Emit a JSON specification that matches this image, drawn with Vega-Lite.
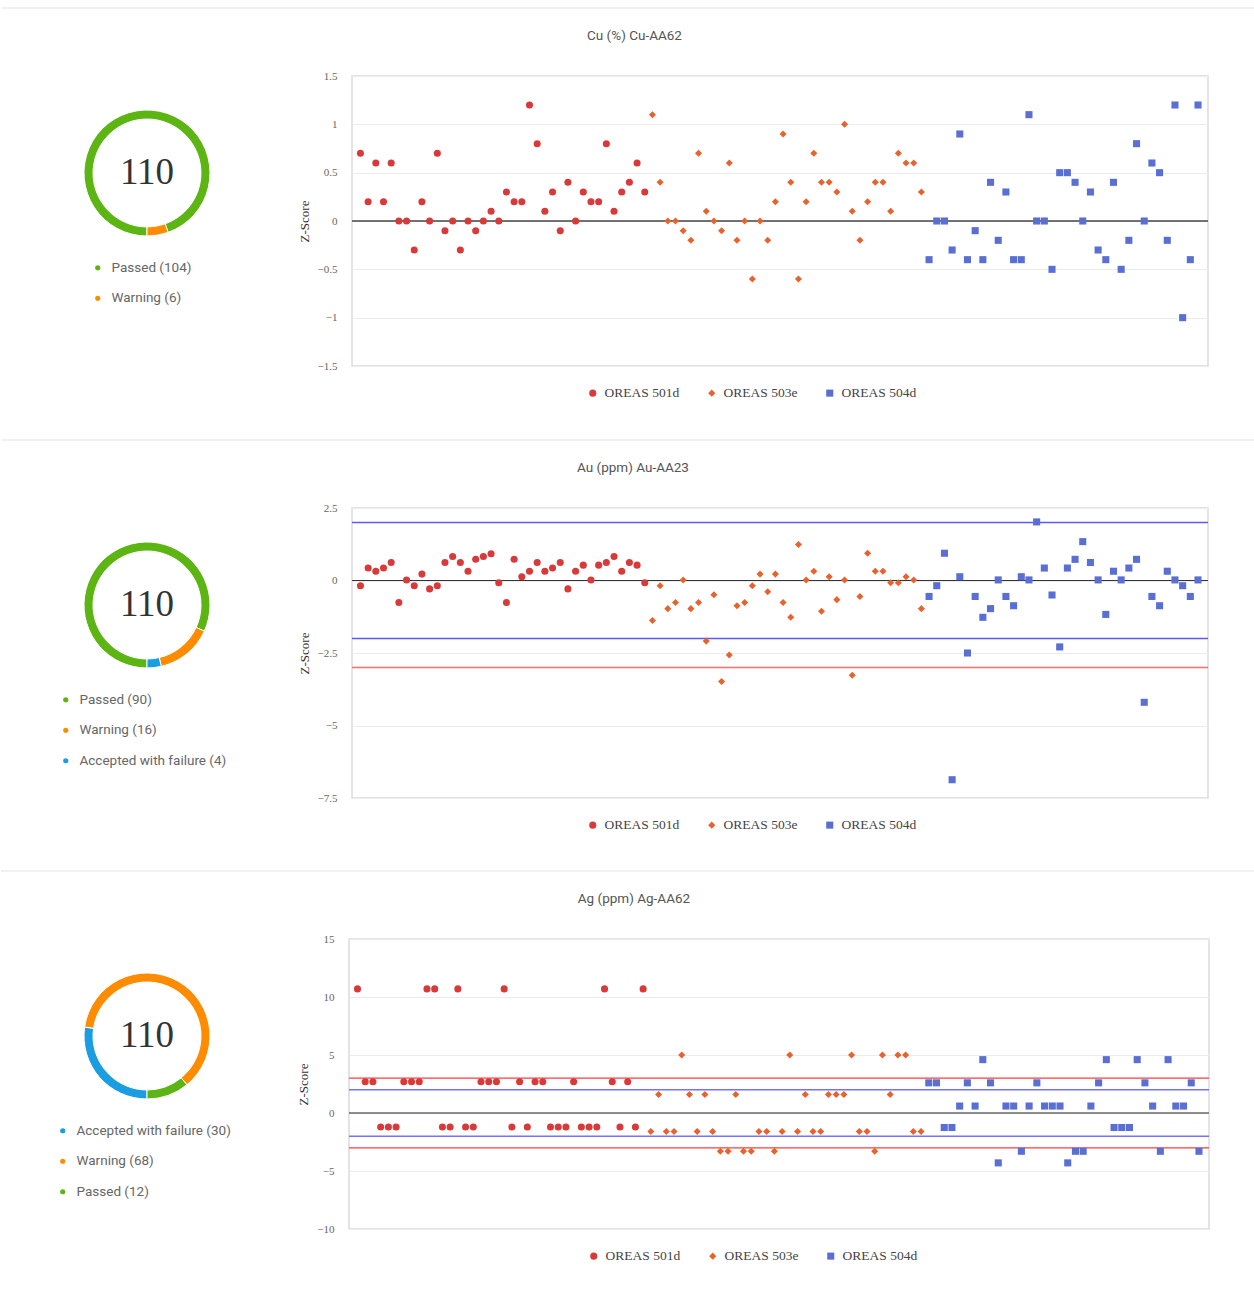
{
"$schema": "https://vega.github.io/schema/vega-lite/v6.json",
"padding": 0,
"background": "white",
"config": {"font": "Roboto", "view": {"stroke": null}},
"spacing": 18,
"resolve": {"scale": {"x": "independent", "y": "independent", "color": "independent", "shape": "independent", "theta": "independent"}},
"datasets": {
"cu": [
{"i":1,"s":"OREAS 501d","z":0.7},{"i":2,"s":"OREAS 501d","z":0.2},{"i":3,"s":"OREAS 501d","z":0.6},{"i":4,"s":"OREAS 501d","z":0.2},{"i":5,"s":"OREAS 501d","z":0.6},{"i":6,"s":"OREAS 501d","z":0},{"i":7,"s":"OREAS 501d","z":0},{"i":8,"s":"OREAS 501d","z":-0.3},{"i":9,"s":"OREAS 501d","z":0.2},{"i":10,"s":"OREAS 501d","z":0},
{"i":11,"s":"OREAS 501d","z":0.7},{"i":12,"s":"OREAS 501d","z":-0.1},{"i":13,"s":"OREAS 501d","z":0},{"i":14,"s":"OREAS 501d","z":-0.3},{"i":15,"s":"OREAS 501d","z":0},{"i":16,"s":"OREAS 501d","z":-0.1},{"i":17,"s":"OREAS 501d","z":0},{"i":18,"s":"OREAS 501d","z":0.1},{"i":19,"s":"OREAS 501d","z":0},{"i":20,"s":"OREAS 501d","z":0.3},
{"i":21,"s":"OREAS 501d","z":0.2},{"i":22,"s":"OREAS 501d","z":0.2},{"i":23,"s":"OREAS 501d","z":1.2},{"i":24,"s":"OREAS 501d","z":0.8},{"i":25,"s":"OREAS 501d","z":0.1},{"i":26,"s":"OREAS 501d","z":0.3},{"i":27,"s":"OREAS 501d","z":-0.1},{"i":28,"s":"OREAS 501d","z":0.4},{"i":29,"s":"OREAS 501d","z":0},{"i":30,"s":"OREAS 501d","z":0.3},
{"i":31,"s":"OREAS 501d","z":0.2},{"i":32,"s":"OREAS 501d","z":0.2},{"i":33,"s":"OREAS 501d","z":0.8},{"i":34,"s":"OREAS 501d","z":0.1},{"i":35,"s":"OREAS 501d","z":0.3},{"i":36,"s":"OREAS 501d","z":0.4},{"i":37,"s":"OREAS 501d","z":0.6},{"i":38,"s":"OREAS 501d","z":0.3},
{"i":39,"s":"OREAS 503e","z":1.1},{"i":40,"s":"OREAS 503e","z":0.4},{"i":41,"s":"OREAS 503e","z":0},{"i":42,"s":"OREAS 503e","z":0},{"i":43,"s":"OREAS 503e","z":-0.1},{"i":44,"s":"OREAS 503e","z":-0.2},{"i":45,"s":"OREAS 503e","z":0.7},{"i":46,"s":"OREAS 503e","z":0.1},{"i":47,"s":"OREAS 503e","z":0},{"i":48,"s":"OREAS 503e","z":-0.1},
{"i":49,"s":"OREAS 503e","z":0.6},{"i":50,"s":"OREAS 503e","z":-0.2},{"i":51,"s":"OREAS 503e","z":0},{"i":52,"s":"OREAS 503e","z":-0.6},{"i":53,"s":"OREAS 503e","z":0},{"i":54,"s":"OREAS 503e","z":-0.2},{"i":55,"s":"OREAS 503e","z":0.2},{"i":56,"s":"OREAS 503e","z":0.9},{"i":57,"s":"OREAS 503e","z":0.4},{"i":58,"s":"OREAS 503e","z":-0.6},
{"i":59,"s":"OREAS 503e","z":0.2},{"i":60,"s":"OREAS 503e","z":0.7},{"i":61,"s":"OREAS 503e","z":0.4},{"i":62,"s":"OREAS 503e","z":0.4},{"i":63,"s":"OREAS 503e","z":0.3},{"i":64,"s":"OREAS 503e","z":1.0},{"i":65,"s":"OREAS 503e","z":0.1},{"i":66,"s":"OREAS 503e","z":-0.2},{"i":67,"s":"OREAS 503e","z":0.2},{"i":68,"s":"OREAS 503e","z":0.4},
{"i":69,"s":"OREAS 503e","z":0.4},{"i":70,"s":"OREAS 503e","z":0.1},{"i":71,"s":"OREAS 503e","z":0.7},{"i":72,"s":"OREAS 503e","z":0.6},{"i":73,"s":"OREAS 503e","z":0.6},{"i":74,"s":"OREAS 503e","z":0.3},
{"i":75,"s":"OREAS 504d","z":-0.4},{"i":76,"s":"OREAS 504d","z":0},{"i":77,"s":"OREAS 504d","z":0},{"i":78,"s":"OREAS 504d","z":-0.3},{"i":79,"s":"OREAS 504d","z":0.9},{"i":80,"s":"OREAS 504d","z":-0.4},{"i":81,"s":"OREAS 504d","z":-0.1},{"i":82,"s":"OREAS 504d","z":-0.4},{"i":83,"s":"OREAS 504d","z":0.4},{"i":84,"s":"OREAS 504d","z":-0.2},
{"i":85,"s":"OREAS 504d","z":0.3},{"i":86,"s":"OREAS 504d","z":-0.4},{"i":87,"s":"OREAS 504d","z":-0.4},{"i":88,"s":"OREAS 504d","z":1.1},{"i":89,"s":"OREAS 504d","z":0},{"i":90,"s":"OREAS 504d","z":0},{"i":91,"s":"OREAS 504d","z":-0.5},{"i":92,"s":"OREAS 504d","z":0.5},{"i":93,"s":"OREAS 504d","z":0.5},{"i":94,"s":"OREAS 504d","z":0.4},
{"i":95,"s":"OREAS 504d","z":0},{"i":96,"s":"OREAS 504d","z":0.3},{"i":97,"s":"OREAS 504d","z":-0.3},{"i":98,"s":"OREAS 504d","z":-0.4},{"i":99,"s":"OREAS 504d","z":0.4},{"i":100,"s":"OREAS 504d","z":-0.5},{"i":101,"s":"OREAS 504d","z":-0.2},{"i":102,"s":"OREAS 504d","z":0.8},{"i":103,"s":"OREAS 504d","z":0},{"i":104,"s":"OREAS 504d","z":0.6},
{"i":105,"s":"OREAS 504d","z":0.5},{"i":106,"s":"OREAS 504d","z":-0.2},{"i":107,"s":"OREAS 504d","z":1.2},{"i":108,"s":"OREAS 504d","z":-1.0},{"i":109,"s":"OREAS 504d","z":-0.4},{"i":110,"s":"OREAS 504d","z":1.2}
],
"au": [
{"i":1,"s":"OREAS 501d","z":-0.18},{"i":2,"s":"OREAS 501d","z":0.43},{"i":3,"s":"OREAS 501d","z":0.32},{"i":4,"s":"OREAS 501d","z":0.43},{"i":5,"s":"OREAS 501d","z":0.62},{"i":6,"s":"OREAS 501d","z":-0.76},{"i":7,"s":"OREAS 501d","z":0.02},{"i":8,"s":"OREAS 501d","z":-0.18},{"i":9,"s":"OREAS 501d","z":0.22},{"i":10,"s":"OREAS 501d","z":-0.29},
{"i":11,"s":"OREAS 501d","z":-0.18},{"i":12,"s":"OREAS 501d","z":0.62},{"i":13,"s":"OREAS 501d","z":0.83},{"i":14,"s":"OREAS 501d","z":0.62},{"i":15,"s":"OREAS 501d","z":0.32},{"i":16,"s":"OREAS 501d","z":0.73},{"i":17,"s":"OREAS 501d","z":0.83},{"i":18,"s":"OREAS 501d","z":0.92},{"i":19,"s":"OREAS 501d","z":-0.08},{"i":20,"s":"OREAS 501d","z":-0.76},
{"i":21,"s":"OREAS 501d","z":0.73},{"i":22,"s":"OREAS 501d","z":0.13},{"i":23,"s":"OREAS 501d","z":0.32},{"i":24,"s":"OREAS 501d","z":0.62},{"i":25,"s":"OREAS 501d","z":0.32},{"i":26,"s":"OREAS 501d","z":0.43},{"i":27,"s":"OREAS 501d","z":0.62},{"i":28,"s":"OREAS 501d","z":-0.29},{"i":29,"s":"OREAS 501d","z":0.32},{"i":30,"s":"OREAS 501d","z":0.53},
{"i":31,"s":"OREAS 501d","z":0.02},{"i":32,"s":"OREAS 501d","z":0.53},{"i":33,"s":"OREAS 501d","z":0.62},{"i":34,"s":"OREAS 501d","z":0.83},{"i":35,"s":"OREAS 501d","z":0.32},{"i":36,"s":"OREAS 501d","z":0.62},{"i":37,"s":"OREAS 501d","z":0.53},{"i":38,"s":"OREAS 501d","z":-0.08},
{"i":39,"s":"OREAS 503e","z":-1.38},{"i":40,"s":"OREAS 503e","z":-0.18},{"i":41,"s":"OREAS 503e","z":-0.97},{"i":42,"s":"OREAS 503e","z":-0.76},{"i":43,"s":"OREAS 503e","z":0.02},{"i":44,"s":"OREAS 503e","z":-0.97},{"i":45,"s":"OREAS 503e","z":-0.76},{"i":46,"s":"OREAS 503e","z":-2.09},{"i":47,"s":"OREAS 503e","z":-0.49},{"i":48,"s":"OREAS 503e","z":-3.48},
{"i":49,"s":"OREAS 503e","z":-2.57},{"i":50,"s":"OREAS 503e","z":-0.87},{"i":51,"s":"OREAS 503e","z":-0.76},{"i":52,"s":"OREAS 503e","z":-0.18},{"i":53,"s":"OREAS 503e","z":0.22},{"i":54,"s":"OREAS 503e","z":-0.39},{"i":55,"s":"OREAS 503e","z":0.22},{"i":56,"s":"OREAS 503e","z":-0.76},{"i":57,"s":"OREAS 503e","z":-1.27},{"i":58,"s":"OREAS 503e","z":1.24},
{"i":59,"s":"OREAS 503e","z":0.02},{"i":60,"s":"OREAS 503e","z":0.32},{"i":61,"s":"OREAS 503e","z":-1.06},{"i":62,"s":"OREAS 503e","z":0.13},{"i":63,"s":"OREAS 503e","z":-0.66},{"i":64,"s":"OREAS 503e","z":0.02},{"i":65,"s":"OREAS 503e","z":-3.27},{"i":66,"s":"OREAS 503e","z":-0.55},{"i":67,"s":"OREAS 503e","z":0.94},{"i":68,"s":"OREAS 503e","z":0.32},
{"i":69,"s":"OREAS 503e","z":0.32},{"i":70,"s":"OREAS 503e","z":-0.08},{"i":71,"s":"OREAS 503e","z":-0.08},{"i":72,"s":"OREAS 503e","z":0.13},{"i":73,"s":"OREAS 503e","z":0.02},{"i":74,"s":"OREAS 503e","z":-0.97},
{"i":75,"s":"OREAS 504d","z":-0.55},{"i":76,"s":"OREAS 504d","z":-0.18},{"i":77,"s":"OREAS 504d","z":0.94},{"i":78,"s":"OREAS 504d","z":-6.87},{"i":79,"s":"OREAS 504d","z":0.13},{"i":80,"s":"OREAS 504d","z":-2.5},{"i":81,"s":"OREAS 504d","z":-0.55},{"i":82,"s":"OREAS 504d","z":-1.27},{"i":83,"s":"OREAS 504d","z":-0.97},{"i":84,"s":"OREAS 504d","z":0.02},
{"i":85,"s":"OREAS 504d","z":-0.55},{"i":86,"s":"OREAS 504d","z":-0.87},{"i":87,"s":"OREAS 504d","z":0.13},{"i":88,"s":"OREAS 504d","z":0.02},{"i":89,"s":"OREAS 504d","z":2.02},{"i":90,"s":"OREAS 504d","z":0.43},{"i":91,"s":"OREAS 504d","z":-0.5},{"i":92,"s":"OREAS 504d","z":-2.29},{"i":93,"s":"OREAS 504d","z":0.43},{"i":94,"s":"OREAS 504d","z":0.73},
{"i":95,"s":"OREAS 504d","z":1.34},{"i":96,"s":"OREAS 504d","z":0.62},{"i":97,"s":"OREAS 504d","z":0.02},{"i":98,"s":"OREAS 504d","z":-1.17},{"i":99,"s":"OREAS 504d","z":0.32},{"i":100,"s":"OREAS 504d","z":0.02},{"i":101,"s":"OREAS 504d","z":0.43},{"i":102,"s":"OREAS 504d","z":0.73},{"i":103,"s":"OREAS 504d","z":-4.2},{"i":104,"s":"OREAS 504d","z":-0.55},
{"i":105,"s":"OREAS 504d","z":-0.87},{"i":106,"s":"OREAS 504d","z":0.32},{"i":107,"s":"OREAS 504d","z":0.02},{"i":108,"s":"OREAS 504d","z":-0.18},{"i":109,"s":"OREAS 504d","z":-0.55},{"i":110,"s":"OREAS 504d","z":0.02}
],
"ag": [
{"i":1,"s":"OREAS 501d","z":10.7},{"i":2,"s":"OREAS 501d","z":2.7},{"i":3,"s":"OREAS 501d","z":2.7},{"i":4,"s":"OREAS 501d","z":-1.2},{"i":5,"s":"OREAS 501d","z":-1.2},{"i":6,"s":"OREAS 501d","z":-1.2},{"i":7,"s":"OREAS 501d","z":2.7},{"i":8,"s":"OREAS 501d","z":2.7},{"i":9,"s":"OREAS 501d","z":2.7},{"i":10,"s":"OREAS 501d","z":10.7},
{"i":11,"s":"OREAS 501d","z":10.7},{"i":12,"s":"OREAS 501d","z":-1.2},{"i":13,"s":"OREAS 501d","z":-1.2},{"i":14,"s":"OREAS 501d","z":10.7},{"i":15,"s":"OREAS 501d","z":-1.2},{"i":16,"s":"OREAS 501d","z":-1.2},{"i":17,"s":"OREAS 501d","z":2.7},{"i":18,"s":"OREAS 501d","z":2.7},{"i":19,"s":"OREAS 501d","z":2.7},{"i":20,"s":"OREAS 501d","z":10.7},
{"i":21,"s":"OREAS 501d","z":-1.2},{"i":22,"s":"OREAS 501d","z":2.7},{"i":23,"s":"OREAS 501d","z":-1.2},{"i":24,"s":"OREAS 501d","z":2.7},{"i":25,"s":"OREAS 501d","z":2.7},{"i":26,"s":"OREAS 501d","z":-1.2},{"i":27,"s":"OREAS 501d","z":-1.2},{"i":28,"s":"OREAS 501d","z":-1.2},{"i":29,"s":"OREAS 501d","z":2.7},{"i":30,"s":"OREAS 501d","z":-1.2},
{"i":31,"s":"OREAS 501d","z":-1.2},{"i":32,"s":"OREAS 501d","z":-1.2},{"i":33,"s":"OREAS 501d","z":10.7},{"i":34,"s":"OREAS 501d","z":2.7},{"i":35,"s":"OREAS 501d","z":-1.2},{"i":36,"s":"OREAS 501d","z":2.7},{"i":37,"s":"OREAS 501d","z":-1.2},{"i":38,"s":"OREAS 501d","z":10.7},
{"i":39,"s":"OREAS 503e","z":-1.6},{"i":40,"s":"OREAS 503e","z":1.6},{"i":41,"s":"OREAS 503e","z":-1.6},{"i":42,"s":"OREAS 503e","z":-1.6},{"i":43,"s":"OREAS 503e","z":5},{"i":44,"s":"OREAS 503e","z":1.6},{"i":45,"s":"OREAS 503e","z":-1.6},{"i":46,"s":"OREAS 503e","z":1.6},{"i":47,"s":"OREAS 503e","z":-1.6},{"i":48,"s":"OREAS 503e","z":-3.3},
{"i":49,"s":"OREAS 503e","z":-3.3},{"i":50,"s":"OREAS 503e","z":1.6},{"i":51,"s":"OREAS 503e","z":-3.3},{"i":52,"s":"OREAS 503e","z":-3.3},{"i":53,"s":"OREAS 503e","z":-1.6},{"i":54,"s":"OREAS 503e","z":-1.6},{"i":55,"s":"OREAS 503e","z":-3.3},{"i":56,"s":"OREAS 503e","z":-1.6},{"i":57,"s":"OREAS 503e","z":5},{"i":58,"s":"OREAS 503e","z":-1.6},
{"i":59,"s":"OREAS 503e","z":1.6},{"i":60,"s":"OREAS 503e","z":-1.6},{"i":61,"s":"OREAS 503e","z":-1.6},{"i":62,"s":"OREAS 503e","z":1.6},{"i":63,"s":"OREAS 503e","z":1.6},{"i":64,"s":"OREAS 503e","z":1.6},{"i":65,"s":"OREAS 503e","z":5},{"i":66,"s":"OREAS 503e","z":-1.6},{"i":67,"s":"OREAS 503e","z":-1.6},{"i":68,"s":"OREAS 503e","z":-3.3},
{"i":69,"s":"OREAS 503e","z":5},{"i":70,"s":"OREAS 503e","z":1.6},{"i":71,"s":"OREAS 503e","z":5},{"i":72,"s":"OREAS 503e","z":5},{"i":73,"s":"OREAS 503e","z":-1.6},{"i":74,"s":"OREAS 503e","z":-1.6},
{"i":75,"s":"OREAS 504d","z":2.6},{"i":76,"s":"OREAS 504d","z":2.6},{"i":77,"s":"OREAS 504d","z":-1.25},{"i":78,"s":"OREAS 504d","z":-1.25},{"i":79,"s":"OREAS 504d","z":0.6},{"i":80,"s":"OREAS 504d","z":2.6},{"i":81,"s":"OREAS 504d","z":0.6},{"i":82,"s":"OREAS 504d","z":4.6},{"i":83,"s":"OREAS 504d","z":2.6},{"i":84,"s":"OREAS 504d","z":-4.3},
{"i":85,"s":"OREAS 504d","z":0.6},{"i":86,"s":"OREAS 504d","z":0.6},{"i":87,"s":"OREAS 504d","z":-3.3},{"i":88,"s":"OREAS 504d","z":0.6},{"i":89,"s":"OREAS 504d","z":2.6},{"i":90,"s":"OREAS 504d","z":0.6},{"i":91,"s":"OREAS 504d","z":0.6},{"i":92,"s":"OREAS 504d","z":0.6},{"i":93,"s":"OREAS 504d","z":-4.3},{"i":94,"s":"OREAS 504d","z":-3.3},
{"i":95,"s":"OREAS 504d","z":-3.3},{"i":96,"s":"OREAS 504d","z":0.6},{"i":97,"s":"OREAS 504d","z":2.6},{"i":98,"s":"OREAS 504d","z":4.6},{"i":99,"s":"OREAS 504d","z":-1.25},{"i":100,"s":"OREAS 504d","z":-1.25},{"i":101,"s":"OREAS 504d","z":-1.25},{"i":102,"s":"OREAS 504d","z":4.6},{"i":103,"s":"OREAS 504d","z":2.6},{"i":104,"s":"OREAS 504d","z":0.6},
{"i":105,"s":"OREAS 504d","z":-3.3},{"i":106,"s":"OREAS 504d","z":4.6},{"i":107,"s":"OREAS 504d","z":0.6},{"i":108,"s":"OREAS 504d","z":0.6},{"i":109,"s":"OREAS 504d","z":2.6},{"i":110,"s":"OREAS 504d","z":-3.3}
]
},
"vconcat": [
{"width": 1254, "height": 8, "view": {"stroke": null}, "data": {"values": [{"v": 0}]}, "mark": {"type": "rule", "color": "#e3e3e3"}, "encoding": {"y": {"field": "v", "type": "quantitative", "scale": {"domain": [0, 1]}, "axis": null}}},
{
"spacing": 4,
"resolve": {"scale": {"x": "independent", "y": "independent", "color": "independent", "shape": "independent", "theta": "independent"}},
"hconcat": [
{"width": 292, "height": 194, "view": {"stroke": null},
"layer": [
{"data": {"values": [{"label": "Passed (104)", "n": 104, "o": 1}, {"label": "Warning (6)", "n": 6, "o": 2}]},
"mark": {"type": "arc", "outerRadius": 63, "innerRadius": 54, "stroke": "white", "strokeWidth": 1},
"encoding": {
"theta": {"field": "n", "type": "quantitative", "stack": true, "scale": {"range": [3.14159, 9.42478]}},
"order": {"field": "o", "type": "quantitative"},
"color": {"field": "label", "type": "nominal", "scale": {"domain": ["Passed (104)", "Warning (6)"], "range": ["#5db514", "#ff8c00"]},
"legend": {"orient": "none", "legendX": 90, "legendY": 185, "title": null, "direction": "vertical", "symbolType": "circle", "symbolSize": 45, "labelFont": "Roboto", "labelFontSize": 13.5, "labelColor": "#666", "labelOffset": 7, "rowPadding": 15.5, "padding": 0}}}},
{"data": {"values": [{"t": "110"}]}, "mark": {"type": "text", "font": "Liberation Serif", "fontSize": 37, "color": "#333", "align": "center", "baseline": "middle"}, "encoding": {"text": {"field": "t", "type": "nominal"}}}
]},
{"width": 856, "height": 290, "view": {"stroke": "#dcdcdc", "strokeWidth": 1.5},
"title": {"text": "Cu (%) Cu-AA62", "anchor": "start", "dx": 289, "offset": 28, "font": "Roboto", "fontSize": 13.5, "fontWeight": "normal", "color": "#555"},
"encoding": {"y": {"field": "z", "type": "quantitative", "scale": {"domain": [-1.5, 1.5], "nice": false, "zero": false},
"axis": {"values": [-1.5, -1, -0.5, 0, 0.5, 1, 1.5], "labelExpr": "format(datum.value, '~g')", "title": "Z-Score", "titleFont": "Liberation Serif", "titleFontSize": 13, "titleFontWeight": "normal", "titleColor": "#333", "titlePadding": 6, "labelFont": "Liberation Serif", "labelFontSize": 11, "labelColor": "#666", "labelPadding": 15, "ticks": false, "domain": false, "grid": true, "gridColor": "#ececec"}}},
"layer": [
{"data": {"values": [{"z": 0}]}, "mark": {"type": "rule", "color": "#444", "strokeWidth": 1.3}, "encoding": {}},
{"data": {"name": "cu"}, "mark": {"type": "point", "filled": true, "size": 50, "opacity": 1},
"encoding": {
"x": {"field": "i", "type": "quantitative", "scale": {"domain": [-0.1, 111.3], "nice": false, "zero": false}, "axis": null},
"color": {"field": "s", "type": "nominal", "scale": {"domain": ["OREAS 501d", "OREAS 503e", "OREAS 504d"], "range": ["#d83a3a", "#e8632c", "#5a6fd4"]},
"legend": {"orient": "none", "legendX": 234, "legendY": 310, "direction": "horizontal", "title": null, "labelFont": "Liberation Serif", "labelFontSize": 13.5, "labelColor": "#444", "symbolSize": 50, "labelOffset": 5, "columnPadding": 25, "padding": 0}},
"shape": {"field": "s", "type": "nominal", "scale": {"domain": ["OREAS 501d", "OREAS 503e", "OREAS 504d"], "range": ["circle", "diamond", "square"]},
"legend": {"orient": "none", "legendX": 234, "legendY": 310, "direction": "horizontal", "title": null, "labelFont": "Liberation Serif", "labelFontSize": 13.5, "labelColor": "#444", "symbolSize": 50, "labelOffset": 5, "columnPadding": 25, "padding": 0}}}}
]}
]},
{"width": 1254, "height": 21, "view": {"stroke": null}, "data": {"values": [{"v": 0}]}, "mark": {"type": "rule", "color": "#e3e3e3"}, "encoding": {"y": {"field": "v", "type": "quantitative", "scale": {"domain": [0, 1]}, "axis": null}}},
{
"spacing": 4,
"resolve": {"scale": {"x": "independent", "y": "independent", "color": "independent", "shape": "independent", "theta": "independent"}},
"hconcat": [
{"width": 292, "height": 194, "view": {"stroke": null},
"layer": [
{"data": {"values": [{"label": "Passed (90)", "n": 90, "o": 1}, {"label": "Warning (16)", "n": 16, "o": 2}, {"label": "Accepted with failure (4)", "n": 4, "o": 3}]},
"mark": {"type": "arc", "outerRadius": 63, "innerRadius": 54, "stroke": "white", "strokeWidth": 1},
"encoding": {
"theta": {"field": "n", "type": "quantitative", "stack": true, "scale": {"range": [3.14159, 9.42478]}},
"order": {"field": "o", "type": "quantitative"},
"color": {"field": "label", "type": "nominal", "scale": {"domain": ["Passed (90)", "Warning (16)", "Accepted with failure (4)"], "range": ["#5db514", "#ff8c00", "#1b9de2"]},
"legend": {"orient": "none", "legendX": 58, "legendY": 185, "title": null, "direction": "vertical", "symbolType": "circle", "symbolSize": 45, "labelFont": "Roboto", "labelFontSize": 13.5, "labelColor": "#666", "labelOffset": 7, "rowPadding": 15.5, "padding": 0}}}},
{"data": {"values": [{"t": "110"}]}, "mark": {"type": "text", "font": "Liberation Serif", "fontSize": 37, "color": "#333", "align": "center", "baseline": "middle"}, "encoding": {"text": {"field": "t", "type": "nominal"}}}
]},
{"width": 856, "height": 290, "view": {"stroke": "#dcdcdc", "strokeWidth": 1.5},
"title": {"text": "Au (ppm) Au-AA23", "anchor": "start", "dx": 279, "offset": 28, "font": "Roboto", "fontSize": 13.5, "fontWeight": "normal", "color": "#555"},
"encoding": {"y": {"field": "z", "type": "quantitative", "scale": {"domain": [-7.5, 2.5], "nice": false, "zero": false},
"axis": {"values": [-7.5, -5, -2.5, 0, 2.5], "labelExpr": "format(datum.value, '~g')", "title": "Z-Score", "titleFont": "Liberation Serif", "titleFontSize": 13, "titleFontWeight": "normal", "titleColor": "#333", "titlePadding": 6, "labelFont": "Liberation Serif", "labelFontSize": 11, "labelColor": "#666", "labelPadding": 15, "ticks": false, "domain": false, "grid": true, "gridColor": "#ececec"}}},
"layer": [
{"data": {"values": [{"z": 0}]}, "mark": {"type": "rule", "color": "#333", "strokeWidth": 1.2}, "encoding": {}},
{"data": {"values": [{"z": 2}, {"z": -2}]}, "mark": {"type": "rule", "color": "#5a5aff", "strokeWidth": 1.5}, "encoding": {}},
{"data": {"values": [{"z": -3}]}, "mark": {"type": "rule", "color": "#ff6a6a", "strokeWidth": 1.5}, "encoding": {}},
{"data": {"name": "au"}, "mark": {"type": "point", "filled": true, "size": 50, "opacity": 1},
"encoding": {
"x": {"field": "i", "type": "quantitative", "scale": {"domain": [-0.1, 111.3], "nice": false, "zero": false}, "axis": null},
"color": {"field": "s", "type": "nominal", "scale": {"domain": ["OREAS 501d", "OREAS 503e", "OREAS 504d"], "range": ["#d83a3a", "#e8632c", "#5a6fd4"]},
"legend": {"orient": "none", "legendX": 234, "legendY": 310, "direction": "horizontal", "title": null, "labelFont": "Liberation Serif", "labelFontSize": 13.5, "labelColor": "#444", "symbolSize": 50, "labelOffset": 5, "columnPadding": 25, "padding": 0}},
"shape": {"field": "s", "type": "nominal", "scale": {"domain": ["OREAS 501d", "OREAS 503e", "OREAS 504d"], "range": ["circle", "diamond", "square"]},
"legend": {"orient": "none", "legendX": 234, "legendY": 310, "direction": "horizontal", "title": null, "labelFont": "Liberation Serif", "labelFontSize": 13.5, "labelColor": "#444", "symbolSize": 50, "labelOffset": 5, "columnPadding": 25, "padding": 0}}}}
]}
]},
{"width": 1254, "height": 20, "view": {"stroke": null}, "data": {"values": [{"v": 0}]}, "mark": {"type": "rule", "color": "#e3e3e3"}, "encoding": {"y": {"field": "v", "type": "quantitative", "scale": {"domain": [0, 1]}, "axis": null}}},
{
"spacing": 4,
"resolve": {"scale": {"x": "independent", "y": "independent", "color": "independent", "shape": "independent", "theta": "independent"}},
"hconcat": [
{"width": 292, "height": 194, "view": {"stroke": null},
"layer": [
{"data": {"values": [{"label": "Accepted with failure (30)", "n": 30, "o": 1}, {"label": "Warning (68)", "n": 68, "o": 2}, {"label": "Passed (12)", "n": 12, "o": 3}]},
"mark": {"type": "arc", "outerRadius": 63, "innerRadius": 54, "stroke": "white", "strokeWidth": 1},
"encoding": {
"theta": {"field": "n", "type": "quantitative", "stack": true, "scale": {"range": [3.14159, 9.42478]}},
"order": {"field": "o", "type": "quantitative"},
"color": {"field": "label", "type": "nominal", "scale": {"domain": ["Accepted with failure (30)", "Warning (68)", "Passed (12)"], "range": ["#1b9de2", "#ff8c00", "#5db514"]},
"legend": {"orient": "none", "legendX": 55, "legendY": 185, "title": null, "direction": "vertical", "symbolType": "circle", "symbolSize": 45, "labelFont": "Roboto", "labelFontSize": 13.5, "labelColor": "#666", "labelOffset": 7, "rowPadding": 15.5, "padding": 0}}}},
{"data": {"values": [{"t": "110"}]}, "mark": {"type": "text", "font": "Liberation Serif", "fontSize": 37, "color": "#333", "align": "center", "baseline": "middle"}, "encoding": {"text": {"field": "t", "type": "nominal"}}}
]},
{"width": 860, "height": 290, "view": {"stroke": "#dcdcdc", "strokeWidth": 1.5},
"title": {"text": "Ag (ppm) Ag-AA62", "anchor": "start", "dx": 280, "offset": 28, "font": "Roboto", "fontSize": 13.5, "fontWeight": "normal", "color": "#555"},
"encoding": {"y": {"field": "z", "type": "quantitative", "scale": {"domain": [-10, 15], "nice": false, "zero": false},
"axis": {"values": [-10, -5, 0, 5, 10, 15], "labelExpr": "format(datum.value, '~g')", "title": "Z-Score", "titleFont": "Liberation Serif", "titleFontSize": 13, "titleFontWeight": "normal", "titleColor": "#333", "titlePadding": 6, "labelFont": "Liberation Serif", "labelFontSize": 11, "labelColor": "#666", "labelPadding": 15, "ticks": false, "domain": false, "grid": true, "gridColor": "#ececec"}}},
"layer": [
{"data": {"values": [{"z": 0}]}, "mark": {"type": "rule", "color": "#222", "strokeWidth": 1.2}, "encoding": {}},
{"data": {"values": [{"z": 2}, {"z": -2}]}, "mark": {"type": "rule", "color": "#7373ff", "strokeWidth": 1.5}, "encoding": {}},
{"data": {"values": [{"z": 3}, {"z": -3}]}, "mark": {"type": "rule", "color": "#ff3d3d", "strokeWidth": 1.2}, "encoding": {}},
{"data": {"name": "ag"}, "mark": {"type": "point", "filled": true, "size": 50, "opacity": 1},
"encoding": {
"x": {"field": "i", "type": "quantitative", "scale": {"domain": [-0.1, 111.3], "nice": false, "zero": false}, "axis": null},
"color": {"field": "s", "type": "nominal", "scale": {"domain": ["OREAS 501d", "OREAS 503e", "OREAS 504d"], "range": ["#d83a3a", "#e8632c", "#5a6fd4"]},
"legend": {"orient": "none", "legendX": 238, "legendY": 310, "direction": "horizontal", "title": null, "labelFont": "Liberation Serif", "labelFontSize": 13.5, "labelColor": "#444", "symbolSize": 50, "labelOffset": 5, "columnPadding": 25, "padding": 0}},
"shape": {"field": "s", "type": "nominal", "scale": {"domain": ["OREAS 501d", "OREAS 503e", "OREAS 504d"], "range": ["circle", "diamond", "square"]},
"legend": {"orient": "none", "legendX": 238, "legendY": 310, "direction": "horizontal", "title": null, "labelFont": "Liberation Serif", "labelFontSize": 13.5, "labelColor": "#444", "symbolSize": 50, "labelOffset": 5, "columnPadding": 25, "padding": 0}}}}
]}
]}
]
}
